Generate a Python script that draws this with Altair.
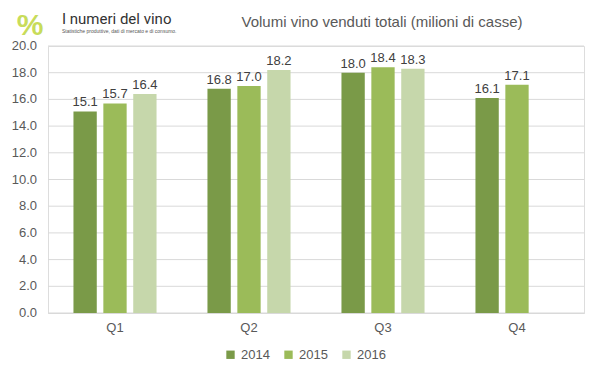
import altair as alt
import pandas as pd

quarters = ["Q1", "Q2", "Q3", "Q4"]
years = ["2014", "2015", "2016"]
v2014 = [15.1, 16.8, 18.0, 16.1]
v2015 = [15.7, 17.0, 18.4, 17.1]
v2016 = [16.4, 18.2, 18.3, None]
yticks = [0, 2, 4, 6, 8, 10, 12, 14, 16, 18, 20]
colors = ["#7A9A48", "#9BBB59", "#C6D7AB"]

rows = []
for i, q in enumerate(quarters):
    for y, vals in zip(years, [v2014, v2015, v2016]):
        if vals[i] is not None:
            rows.append({"q": q, "year": y, "v": vals[i]})
df = pd.DataFrame(rows)
tick_df = pd.DataFrame({"v": yticks})

FONT = "Liberation Sans"
yscale = alt.Scale(domain=[0, 20], nice=False)
xenc = alt.X("q:N", sort=quarters, title=None,
             scale=alt.Scale(paddingInner=0.38, paddingOuter=0.19),
             axis=alt.Axis(labelAngle=0, labelFontSize=13, labelColor="#595959",
                           labelFont=FONT, domainColor="#D9D9D9", ticks=False,
                           labelPadding=8, grid=False))
xoff = alt.XOffset("year:N", sort=years, scale=alt.Scale(domain=years, paddingInner=0.22))
yenc = alt.Y("v:Q", title=None, scale=yscale, axis=None)

grid = alt.Chart(tick_df).mark_rule(color="#D9D9D9", strokeWidth=1).encode(
    y=yenc, x=alt.value(0), x2=alt.value(536))
ylabels = alt.Chart(tick_df).mark_text(align="right", baseline="middle", fontSize=13,
                                       color="#595959", font=FONT, clip=False).encode(
    y=yenc, x=alt.value(-11), text=alt.Text("v:Q", format=".1f"))

bars = alt.Chart(df).mark_bar().encode(
    x=xenc, xOffset=xoff, y=yenc,
    color=alt.Color("year:N", sort=years,
                    scale=alt.Scale(domain=years, range=colors),
                    legend=alt.Legend(title=None, orient="none", direction="horizontal",
                                      legendX=176, legendY=302, symbolType="square",
                                      symbolSize=70, labelFontSize=13, labelColor="#595959",
                                      labelFont=FONT, columnPadding=12, symbolStrokeWidth=0))
)
labels = alt.Chart(df).mark_text(dy=-9, fontSize=13, color="#404040", font=FONT).encode(
    x=xenc, xOffset=xoff, y=yenc, text=alt.Text("v:Q", format=".1f")
)

title_df = pd.DataFrame({"t": ["Volumi vino venduti totali (milioni di casse)"]})
title = alt.Chart(title_df).mark_text(align="center", baseline="middle", fontSize=15,
                                      font=FONT, color="#595959", clip=False).encode(
    x=alt.value(334), y=alt.value(-24), text="t:N")

logo_df = pd.DataFrame({"t": ["I numeri del vino"]})
logo = alt.Chart(logo_df).mark_text(align="left", baseline="middle", fontSize=15,
                                    font="Roboto", color="#333333", clip=False).encode(
    x=alt.value(14), y=alt.value(-27), text="t:N")
sub_df = pd.DataFrame({"t": ["Statistiche produttive, dati di mercato e di consumo."]})
sub = alt.Chart(sub_df).mark_text(align="left", baseline="middle", fontSize=5,
                                  font=FONT, color="#555555", clip=False).encode(
    x=alt.value(14), y=alt.value(-15), text="t:N")
pct_df = pd.DataFrame({"t": ["%"]})
pct = alt.Chart(pct_df).mark_text(align="center", baseline="middle", fontSize=30,
                                  font=FONT, color="#C8DC5A", fontWeight="bold", clip=False).encode(
    x=alt.value(-18), y=alt.value(-20), text="t:N")

chart = alt.layer(grid, ylabels, bars, labels, title, pct, logo, sub).properties(
    width=536, height=267,
    autosize=alt.AutoSizeParams(type="none"),
    padding={"left": 40, "top": 38, "right": 7, "bottom": 56},
).configure_view(stroke=None).configure(background="white")

chart.save("out.html", embed_options={"renderer": "svg", "actions": False})
